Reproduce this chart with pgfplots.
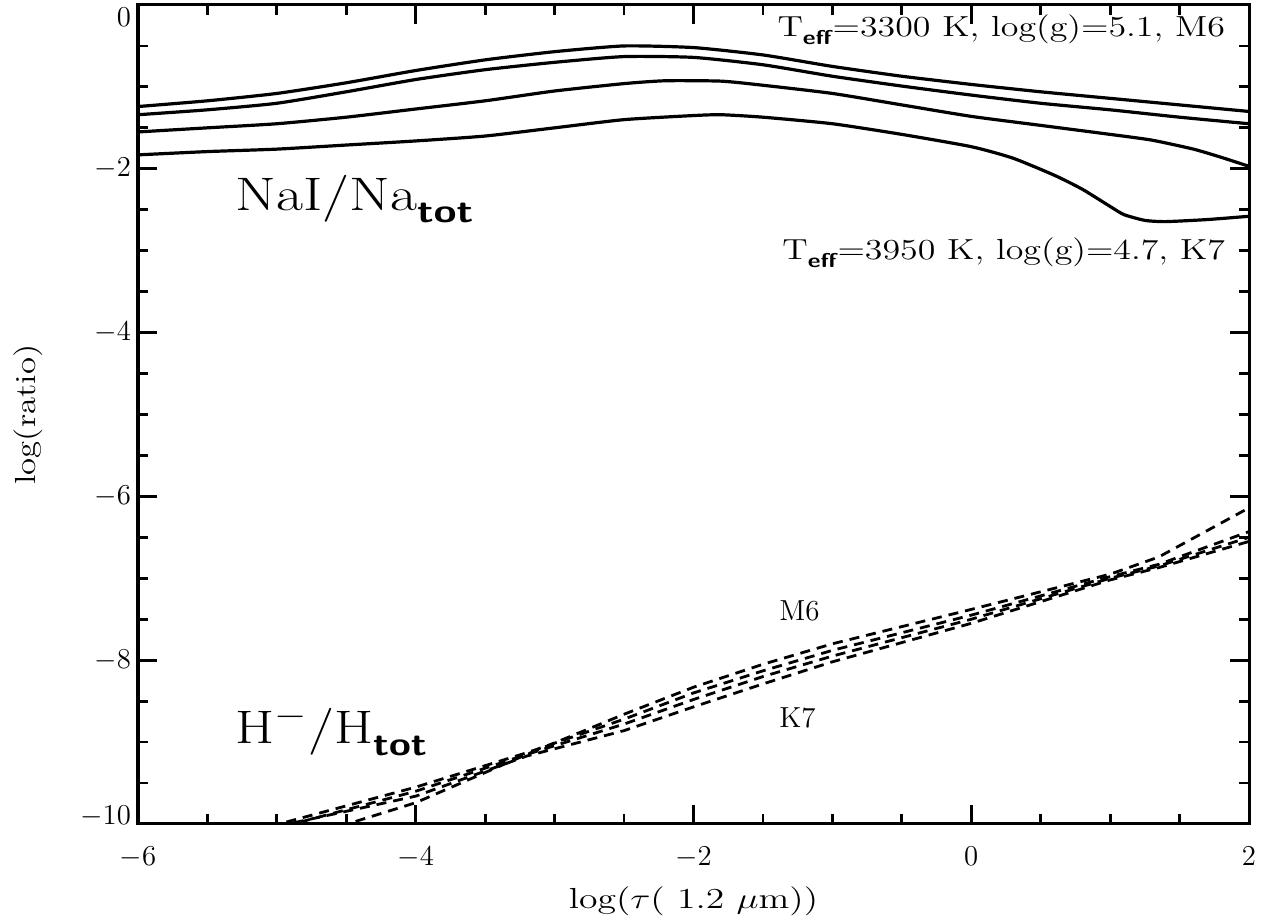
\documentclass[border=0pt]{standalone}
\usepackage{pgfplots}
\pgfplotsset{compat=1.18}
\usetikzlibrary{calc}
\newcommand{\sub}[1]{\textsf{\textbf{#1}}}
\newcommand{\lab}{\fontsize{14.5}{17}\selectfont}
\begin{document}
\begin{tikzpicture}
\begin{axis}[
  scale only axis, width=555.5pt, height=409.5pt,
  xmin=-6, xmax=2, ymin=-10, ymax=0,
  xtick={-6,-4,...,2}, ytick={-10,-8,...,0},
  yticklabels={\raisebox{4pt}[\height][\depth]{$-10$},$-8$,$-6$,$-4$,$-2$,\raisebox{-6pt}[\height][\depth]{$0$}},
  minor x tick num=3, minor y tick num=3,
  tick align=inside, tick pos=both,
  major tick length=9.5pt, minor tick length=4.8pt,
  axis line style={line width=1.5pt},
  tick style={line width=1.4pt, black},
  tick label style={font=\lab},
  xticklabel style={yshift=-8pt},
  xlabel={\scalebox{1.3}[1]{log($\tau$( 1.2 $\mu$m))}},
  ylabel={\scalebox{1.2}[1]{log(ratio)}},
  every axis x label/.style={at={(axis description cs:0.5,-0.1026)}, anchor=base, font=\lab},
  every axis y label/.style={at={(axis description cs:-0.099,0.5)}, rotate=90, anchor=center, font=\lab},
  solid line/.style={black, line width=1.6pt, solid, smooth, tension=0.35},
  dash line/.style={black, line width=1.4pt, dash pattern=on 5pt off 3.5pt},
]
% NaI / Na_tot solid curves
\addplot[solid line] coordinates {(-6,-1.24) (-5.5,-1.17) (-5,-1.08) (-4.5,-0.95) (-4,-0.80) (-3.5,-0.67) (-3,-0.57) (-2.5,-0.50) (-2,-0.52) (-1.5,-0.61) (-1,-0.75) (-0.5,-0.87) (0,-0.97) (0.5,-1.06) (1,-1.14) (1.5,-1.22) (2,-1.30)};
\addplot[solid line] coordinates {(-6,-1.34) (-5.5,-1.28) (-5,-1.20) (-4.5,-1.06) (-4,-0.91) (-3.5,-0.79) (-3,-0.70) (-2.5,-0.63) (-2,-0.64) (-1.5,-0.73) (-1,-0.87) (-0.5,-0.99) (0,-1.10) (0.5,-1.20) (1,-1.28) (1.5,-1.37) (2,-1.45)};
\addplot[solid line] coordinates {(-6,-1.55) (-5.5,-1.50) (-5,-1.45) (-4.5,-1.37) (-4,-1.27) (-3.5,-1.17) (-3,-1.05) (-2.5,-0.96) (-2.2,-0.925) (-1.8,-0.93) (-1.5,-0.98) (-1,-1.08) (-0.5,-1.22) (0,-1.36) (0.5,-1.47) (1,-1.58) (1.3,-1.65) (1.6,-1.76) (1.8,-1.86) (2,-1.97)};
\addplot[solid line] coordinates {(-6,-1.83) (-5.5,-1.79) (-5,-1.76) (-4.5,-1.71) (-4,-1.66) (-3.5,-1.60) (-3,-1.50) (-2.5,-1.40) (-2,-1.35) (-1.8,-1.34) (-1.5,-1.37) (-1,-1.45) (-0.5,-1.58) (0,-1.73) (0.3,-1.87) (0.6,-2.08) (0.8,-2.25) (1.0,-2.46) (1.1,-2.56) (1.25,-2.63) (1.4,-2.645) (1.7,-2.62) (2,-2.58)};
% H- / H_tot dashed curves
\addplot[dash line] coordinates {(-4.55,-10.03) (-4,-9.74) (-3.2,-9.15) (-2.5,-8.66) (-2,-8.33) (-1.5,-8.05) (-1,-7.80) (0,-7.38) (1,-6.95) (1.35,-6.74) (2,-6.14)};
\addplot[dash line] coordinates {(-5.05,-10.03) (-4,-9.55) (-3.2,-9.13) (-2.5,-8.72) (-2,-8.40) (-1.5,-8.13) (-1,-7.88) (0,-7.45) (1,-6.98) (1.35,-6.83) (2,-6.43)};
\addplot[dash line] coordinates {(-4.95,-10.03) (-4,-9.60) (-3.2,-9.15) (-2.5,-8.78) (-2,-8.48) (-1.5,-8.20) (-1,-7.95) (0,-7.50) (1,-7.00) (1.35,-6.85) (2,-6.50)};
\addplot[dash line] coordinates {(-5.0,-10.03) (-4,-9.66) (-3.2,-9.17) (-2.5,-8.86) (-2,-8.57) (-1.5,-8.29) (-1,-8.02) (0,-7.55) (1,-7.02) (1.35,-6.87) (2,-6.55)};
% annotations
\node[anchor=base west, font=\fontsize{23.5}{26}\selectfont, inner sep=0pt] at (axis cs:-5.30,-2.51)
  {\scalebox{1.25}[1]{NaI/Na\raisebox{-6pt}{\fontsize{16.5}{16.5}\selectfont\sub{tot}}}};
\node[anchor=base west, font=\fontsize{23.5}{26}\selectfont, inner sep=0pt] at (axis cs:-5.30,-9.02)
  {\scalebox{1.2}[1]{H$^{-}$/H\raisebox{-6pt}{\fontsize{16.5}{16.5}\selectfont\sub{tot}}}};
\node[anchor=base east, font=\lab, inner sep=0pt] at (axis cs:1.83,-0.39)
  {\scalebox{1.24}[1]{T\raisebox{-4pt}{\fontsize{10}{10}\selectfont\sub{eff}}=3300 K, log(g)=5.1, M6}};
\node[anchor=base east, font=\lab, inner sep=0pt] at (axis cs:1.83,-3.11)
  {\scalebox{1.24}[1]{T\raisebox{-4pt}{\fontsize{10}{10}\selectfont\sub{eff}}=3950 K, log(g)=4.7, K7}};
\node[anchor=base west, font=\lab, inner sep=0pt] at (axis cs:-1.385,-7.51) {M6};
\node[anchor=base west, font=\lab, inner sep=0pt] at (axis cs:-1.385,-8.82) {K7};
\end{axis}
\pgfresetboundingbox
\path[use as bounding box] ($(current axis.south west)+(-69pt,-49.5pt)$) rectangle ($(current axis.north east)+(12pt,2.5pt)$);
\end{tikzpicture}
\end{document}
